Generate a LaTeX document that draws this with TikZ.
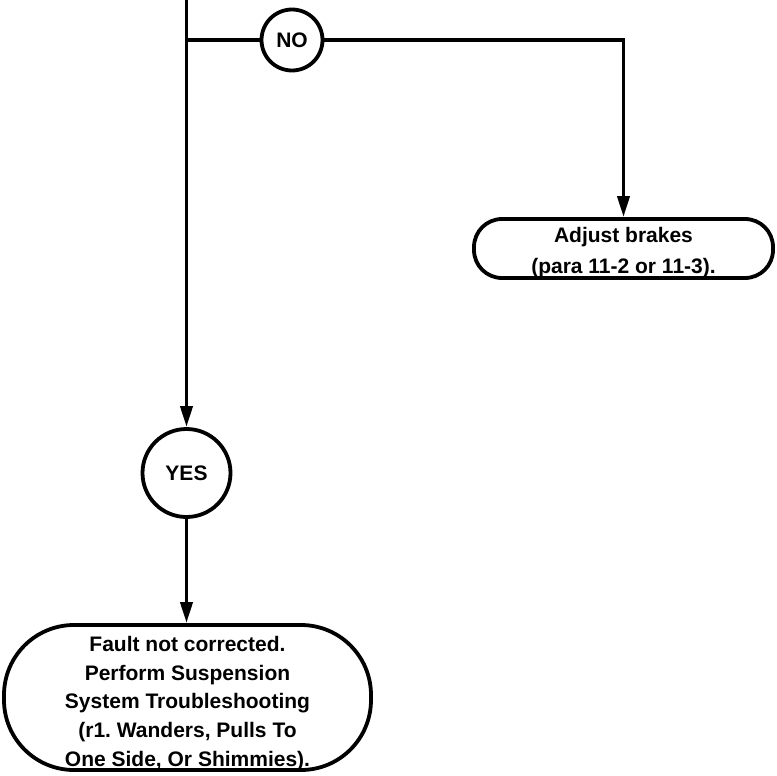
\documentclass[tikz,border=0pt]{standalone}
\usepackage{fontspec}
\setmainfont{Liberation Sans}
\usetikzlibrary{arrows.meta}
\frenchspacing
\begin{document}
\begin{tikzpicture}[x=1pt,y=1pt,
  line width=3.8pt,
  lbl/.style={font=\bfseries\fontsize{21}{28.7}\selectfont, align=center, inner sep=0pt},
  lblwide/.style={font=\bfseries\fontsize{21}{31}\selectfont, align=center, inner sep=0pt},
  circ/.style={draw, circle, inner sep=0pt, line width=3.8pt, font=\bfseries\fontsize{21}{24}\selectfont},
  term/.style={draw, rectangle, rounded corners=#1, inner sep=0pt, line width=3.8pt},
  arr/.style={-{Triangle[length=21pt,width=12pt]}}
]
\fill[white] (0,0) rectangle (777,-776);
\useasboundingbox (0,0) rectangle (777,-776);

\coordinate (top) at (186.5,3);
\coordinate (j) at (186.5,-40);
\node[circ, minimum size=61pt] (no) at (292,-40) {NO};
\node[circ, minimum size=88pt] (yes) at (186.5,-473) {YES};
\node[term=28pt, minimum width=299pt, minimum height=59pt] (adj) at (623.5,-248.5) {};
\node[lblwide] (adjtxt) at ([yshift=-4.5pt]adj.center) {Adjust brakes\\(para 11-2 or 11-3).};
\node[term=70pt, minimum width=367pt, minimum height=145pt] (fault) at (187.5,-697.5) {};
\node[lbl] (faulttxt) at ([yshift=-6pt]fault.center) {Fault not corrected.\\Perform Suspension\\System Troubleshooting\\(r1. Wanders, Pulls To\\One Side, Or Shimmies).};

\draw[arr] (top) -- (yes.north);
\draw (j) -- (no.west);
\draw[arr] (no.east) -| (adj.north);
\draw[arr] (yes.south) -- (yes.south |- fault.north);
\end{tikzpicture}
\end{document}
